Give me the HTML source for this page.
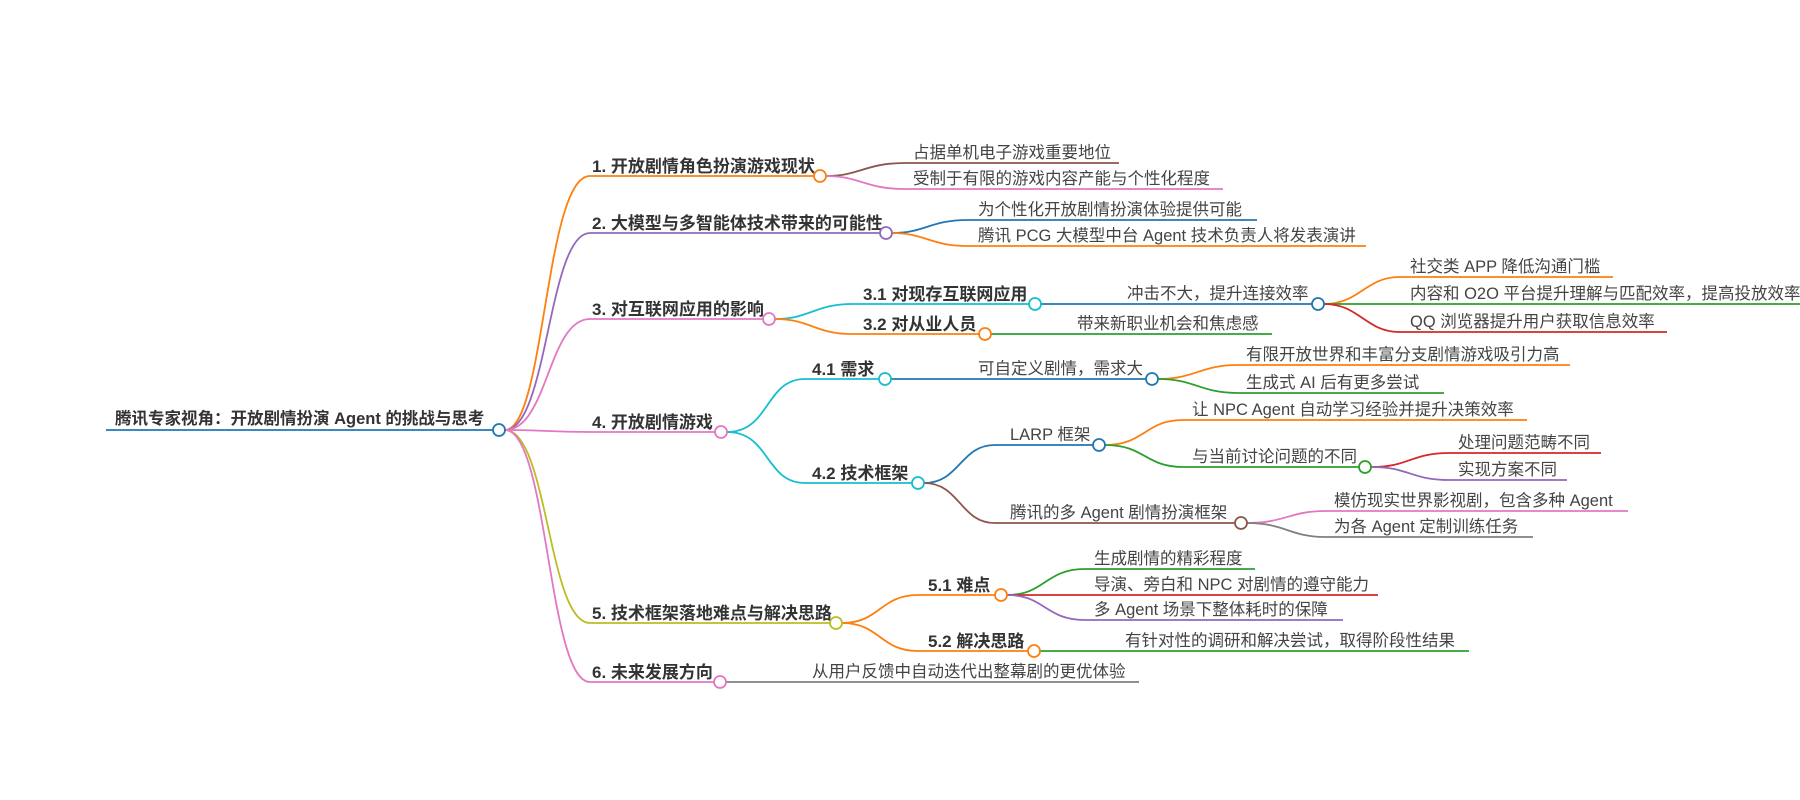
<!DOCTYPE html>
<html><head><meta charset="utf-8"><style>
html,body{margin:0;padding:0;background:#fff;}
svg{display:block;}
text{font-family:"Liberation Sans","Noto Sans CJK SC",sans-serif;fill:#333;}
.b{font-weight:bold;font-size:17px;}
.l{font-size:16.5px;fill:#444;}
path{fill:none;stroke-width:1.8;}
circle{fill:#fff;stroke-width:1.8;}
</style></head><body>
<svg width="1800" height="800" viewBox="0 0 1800 800">
<path d="M106,430 H493" stroke="#1f77b4" stroke-width="3"/>
<text x="115" y="424" class="b" style="font-size:16.5px">腾讯专家视角：开放剧情扮演 Agent 的挑战与思考</text>
<path d="M505,430 C545,430 545,176 590,176 H814" stroke="#ff7f0e"/>
<path d="M505,430 C548,430 548,233 590,233 H880" stroke="#9467bd"/>
<path d="M505,430 C548,430 548,319 590,319 H763" stroke="#e377c2"/>
<path d="M505,430 C548,430 548,432 590,432 H715" stroke="#e377c2"/>
<path d="M505,430 C548,430 548,623 590,623 H830" stroke="#bcbd22"/>
<path d="M505,430 C548,430 548,682 590,682 H714" stroke="#e377c2"/>
<circle cx="499" cy="430" r="6" stroke="#1f77b4"/>
<text x="592" y="172" class="b">1. 开放剧情角色扮演游戏现状</text>
<text x="592" y="229" class="b">2. 大模型与多智能体技术带来的可能性</text>
<text x="592" y="315" class="b">3. 对互联网应用的影响</text>
<text x="592" y="428" class="b">4. 开放剧情游戏</text>
<text x="592" y="619" class="b">5. 技术框架落地难点与解决思路</text>
<text x="592" y="678" class="b">6. 未来发展方向</text>
<path d="M826,176 C860,176 865,163 905,163 H1119" stroke="#8c564b"/>
<path d="M826,176 C860,176 865,189 905,189 H1223" stroke="#e377c2"/>
<circle cx="820" cy="176" r="6" stroke="#ff7f0e"/>
<text x="913" y="158" class="l">占据单机电子游戏重要地位</text>
<text x="913" y="184" class="l">受制于有限的游戏内容产能与个性化程度</text>
<path d="M892,233 C925,233 930,220 968,220 H1257" stroke="#1f77b4"/>
<path d="M892,233 C925,233 930,246 968,246 H1366" stroke="#ff7f0e"/>
<circle cx="886" cy="233" r="6" stroke="#9467bd"/>
<text x="978" y="215" class="l">为个性化开放剧情扮演体验提供可能</text>
<text x="978" y="241" class="l">腾讯 PCG 大模型中台 Agent 技术负责人将发表演讲</text>
<path d="M775,319 C810,319 815,304 852,304 H1029" stroke="#17becf"/>
<path d="M775,319 C810,319 815,334 852,334 H979" stroke="#ff7f0e"/>
<circle cx="769" cy="319" r="6" stroke="#e377c2"/>
<text x="863" y="300" class="b">3.1 对现存互联网应用</text>
<text x="863" y="330" class="b">3.2 对从业人员</text>
<path d="M1041,304 H1312" stroke="#1f77b4"/>
<circle cx="1035" cy="304" r="6" stroke="#17becf"/>
<text x="1127" y="299" class="l">冲击不大，提升连接效率</text>
<path d="M991,334 H1272" stroke="#2ca02c"/>
<circle cx="985" cy="334" r="6" stroke="#ff7f0e"/>
<text x="1077" y="329" class="l">带来新职业机会和焦虑感</text>
<path d="M1324,304 C1360,304 1365,277 1400,277 H1613" stroke="#ff7f0e"/>
<path d="M1324,304 H1800" stroke="#2ca02c"/>
<path d="M1324,304 C1360,304 1365,332 1400,332 H1667" stroke="#d62728"/>
<circle cx="1318" cy="304" r="6" stroke="#1f77b4"/>
<text x="1410" y="272" class="l">社交类 APP 降低沟通门槛</text>
<text x="1410" y="299" class="l">内容和 O2O 平台提升理解与匹配效率，提高投放效率</text>
<text x="1410" y="327" class="l">QQ 浏览器提升用户获取信息效率</text>
<path d="M727,432 C770,432 765,379 805,379 H879" stroke="#17becf"/>
<path d="M727,432 C770,432 765,483 805,483 H912" stroke="#17becf"/>
<circle cx="721" cy="432" r="6" stroke="#e377c2"/>
<text x="812" y="375" class="b">4.1 需求</text>
<text x="812" y="479" class="b">4.2 技术框架</text>
<path d="M891,379 H1146" stroke="#1f77b4"/>
<circle cx="885" cy="379" r="6" stroke="#17becf"/>
<text x="978" y="374" class="l">可自定义剧情，需求大</text>
<path d="M1158,379 C1195,379 1200,365 1238,365 H1570" stroke="#ff7f0e"/>
<path d="M1158,379 C1195,379 1200,393 1238,393 H1444" stroke="#2ca02c"/>
<circle cx="1152" cy="379" r="6" stroke="#1f77b4"/>
<text x="1246" y="360" class="l">有限开放世界和丰富分支剧情游戏吸引力高</text>
<text x="1246" y="388" class="l">生成式 AI 后有更多尝试</text>
<path d="M924,483 C960,483 960,445 995,445 H1093" stroke="#1f77b4"/>
<path d="M924,483 C960,483 960,523 995,523 H1235" stroke="#8c564b"/>
<circle cx="918" cy="483" r="6" stroke="#17becf"/>
<text x="1010" y="440" class="l">LARP 框架</text>
<text x="1010" y="518" class="l">腾讯的多 Agent 剧情扮演框架</text>
<path d="M1105,445 C1145,445 1145,420 1183,420 H1527" stroke="#ff7f0e"/>
<path d="M1105,445 C1145,445 1145,467 1183,467 H1359" stroke="#2ca02c"/>
<circle cx="1099" cy="445" r="6" stroke="#1f77b4"/>
<text x="1192" y="415" class="l">让 NPC Agent 自动学习经验并提升决策效率</text>
<text x="1192" y="462" class="l">与当前讨论问题的不同</text>
<path d="M1371,467 C1410,467 1410,453 1450,453 H1601" stroke="#d62728"/>
<path d="M1371,467 C1410,467 1410,480 1450,480 H1567" stroke="#9467bd"/>
<circle cx="1365" cy="467" r="6" stroke="#2ca02c"/>
<text x="1458" y="448" class="l">处理问题范畴不同</text>
<text x="1458" y="475" class="l">实现方案不同</text>
<path d="M1247,523 C1285,523 1290,511 1325,511 H1628" stroke="#e377c2"/>
<path d="M1247,523 C1285,523 1290,537 1325,537 H1533" stroke="#7f7f7f"/>
<circle cx="1241" cy="523" r="6" stroke="#8c564b"/>
<text x="1334" y="506" class="l">模仿现实世界影视剧，包含多种 Agent</text>
<text x="1334" y="532" class="l">为各 Agent 定制训练任务</text>
<path d="M842,623 C880,623 880,595 918,595 H995" stroke="#ff7f0e"/>
<path d="M842,623 C880,623 880,651 918,651 H1028" stroke="#ff7f0e"/>
<circle cx="836" cy="623" r="6" stroke="#bcbd22"/>
<text x="928" y="591" class="b">5.1 难点</text>
<text x="928" y="647" class="b">5.2 解决思路</text>
<path d="M1007,595 C1045,595 1045,569 1085,569 H1255" stroke="#2ca02c"/>
<path d="M1007,595 H1378" stroke="#d62728"/>
<path d="M1007,595 C1045,595 1045,620 1085,620 H1343" stroke="#9467bd"/>
<circle cx="1001" cy="595" r="6" stroke="#ff7f0e"/>
<text x="1094" y="564" class="l">生成剧情的精彩程度</text>
<text x="1094" y="590" class="l">导演、旁白和 NPC 对剧情的遵守能力</text>
<text x="1094" y="615" class="l">多 Agent 场景下整体耗时的保障</text>
<path d="M1040,651 H1469" stroke="#2ca02c"/>
<circle cx="1034" cy="651" r="6" stroke="#ff7f0e"/>
<text x="1125" y="646" class="l">有针对性的调研和解决尝试，取得阶段性结果</text>
<path d="M726,682 H1139" stroke="#7f7f7f"/>
<circle cx="720" cy="682" r="6" stroke="#e377c2"/>
<text x="812" y="677" class="l">从用户反馈中自动迭代出整幕剧的更优体验</text>
</svg>
</body></html>
